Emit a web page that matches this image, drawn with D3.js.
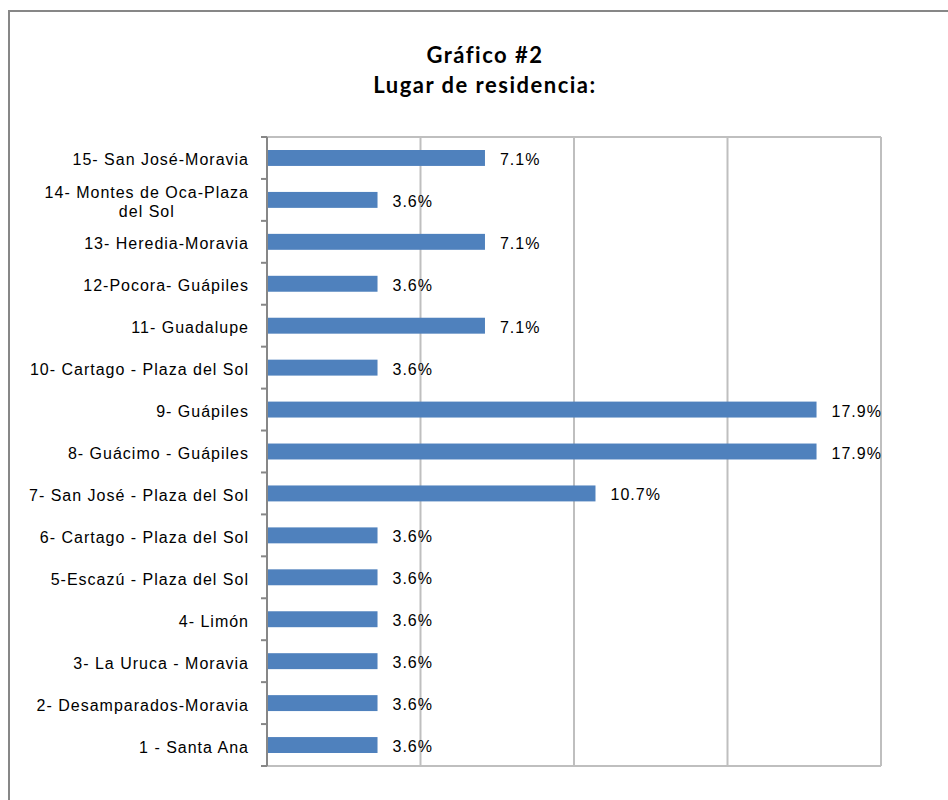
<!DOCTYPE html>
<html>
<head>
<meta charset="utf-8">
<script src="https://cdn.jsdelivr.net/npm/d3@7"></script>
<style>
  html, body { margin: 0; padding: 0; background: #fff; }
  svg { display: block; }
</style>
</head>
<body>
<svg id="chart" width="948" height="800"></svg>
<script>
// Place of residence, top row first
const categories = [
  "15- San José-Moravia",
  "14- Montes de Oca-Plaza|del Sol",
  "13- Heredia-Moravia",
  "12-Pocora- Guápiles",
  "11- Guadalupe",
  "10- Cartago - Plaza del Sol",
  "9- Guápiles",
  "8- Guácimo - Guápiles",
  "7- San José - Plaza del Sol",
  "6- Cartago - Plaza del Sol",
  "5-Escazú - Plaza del Sol",
  "4- Limón",
  "3- La Uruca - Moravia",
  "2- Desamparados-Moravia",
  "1 - Santa Ana"
];
// Percentage of respondents
const values = [7.1, 3.6, 7.1, 3.6, 7.1, 3.6, 17.9, 17.9, 10.7, 3.6, 3.6, 3.6, 3.6, 3.6, 3.6];
const xTicks = [0, 5, 10, 15, 20];
const titleLines = ["Gráfico #2", "Lugar de residencia:"];

const svg = d3.select("#chart");
const plot = { left: 267, right: 881, top: 137, bottom: 766 };

// Outer chart frame
svg.append("rect")
  .attr("x", 9).attr("y", 11)
  .attr("width", 1000).attr("height", 900)
  .attr("fill", "none").attr("stroke", "#878787").attr("stroke-width", 2);

// Title
svg.selectAll("text.title").data(titleLines).join("text")
  .attr("class", "title")
  .attr("x", 485)
  .attr("y", (d, i) => 63 + i * 30)
  .attr("text-anchor", "middle")
  .attr("font-family", "Lato, 'Open Sans', sans-serif")
  .attr("font-weight", "bold")
  .attr("font-size", 22)
  .attr("letter-spacing", 1.5)
  .attr("fill", "#000")
  .text(d => d);

const x = d3.scaleLinear().domain([0, 20]).range([plot.left, plot.right]);
const y = d3.scaleBand().domain(categories).range([plot.top, plot.bottom])
  .paddingInner(0.62).paddingOuter(0.31);
const step = y.step();
const y0 = y(categories[0]) - y.paddingOuter() * step;

// Vertical gridlines
svg.selectAll("line.grid").data(xTicks.filter(t => t > 0)).join("line")
  .attr("class", "grid")
  .attr("x1", d => x(d)).attr("x2", d => x(d))
  .attr("y1", plot.top).attr("y2", plot.bottom)
  .attr("stroke", "#bfbfbf").attr("stroke-width", 2);

// Top edge and bottom axis of the plot area
[plot.top, plot.bottom].forEach(yy => {
  svg.append("line")
    .attr("x1", plot.left - 6).attr("x2", plot.right)
    .attr("y1", yy).attr("y2", yy)
    .attr("stroke", "#bfbfbf").attr("stroke-width", 2);
});

// Bars
svg.selectAll("rect.bar").data(categories).join("rect")
  .attr("class", "bar")
  .attr("x", x(0))
  .attr("y", d => y(d))
  .attr("width", (d, i) => x(values[i]) - x(0))
  .attr("height", y.bandwidth())
  .attr("fill", "#4f81bd");

// Category axis with ticks between bands
const boundaries = d3.range(categories.length + 1).map(i => y0 + i * step);
svg.selectAll("line.tick").data(boundaries).join("line")
  .attr("class", "tick")
  .attr("x1", plot.left - 6).attr("x2", plot.left)
  .attr("y1", d => d).attr("y2", d => d)
  .attr("stroke", "#878787").attr("stroke-width", 2);
svg.append("line")
  .attr("x1", plot.left).attr("x2", plot.left)
  .attr("y1", plot.top).attr("y2", plot.bottom)
  .attr("stroke", "#878787").attr("stroke-width", 2);

// Category labels (wrapped lines are centred on each other, block right-aligned)
const labelFont = { family: "'Liberation Sans', Arial, sans-serif", size: 16, spacing: 1 };
const labelRight = 249;
categories.forEach((c, i) => {
  const lines = c.split("|");
  const cy = y(c) + y.bandwidth() / 2;
  const g = svg.append("g");
  const texts = lines.map((ln, k) => g.append("text")
    .attr("y", cy + 7.5 + (k - (lines.length - 1) / 2) * 19)
    .attr("font-family", labelFont.family)
    .attr("font-size", labelFont.size)
    .attr("letter-spacing", labelFont.spacing)
    .attr("fill", "#000")
    .text(ln));
  const widths = texts.map(t => t.node().getComputedTextLength());
  const maxW = d3.max(widths);
  texts.forEach(t => t.attr("x", labelRight - maxW / 2).attr("text-anchor", "middle"));
});

// Value labels
svg.selectAll("text.value").data(categories).join("text")
  .attr("class", "value")
  .attr("x", (d, i) => x(values[i]) + 15)
  .attr("y", d => y(d) + y.bandwidth() / 2 + 7)
  .attr("font-family", labelFont.family)
  .attr("font-size", 16)
  .attr("letter-spacing", 1)
  .attr("fill", "#000")
  .text((d, i) => values[i].toFixed(1) + "%");
</script>
</body>
</html>
